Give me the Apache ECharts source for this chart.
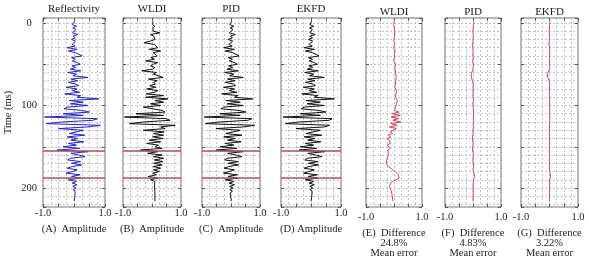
<!DOCTYPE html>
<html>
<head>
<meta charset="utf-8">
<script src="https://cdn.jsdelivr.net/npm/echarts@6/dist/echarts.min.js"></script>
<style>
  html, body { margin: 0; padding: 0; background: #fff; }
  #chart { width: 589px; height: 270px; }
</style>
</head>
<body>
<div id="chart"></div>
<script>
// sampling of the traces (ms)
const startMs = -2;
const stepMs = 2;

// traces, one value per sample
const reflectivity = [
  0.02, 0.05, -0.06, 0.08, -0.04, 0.06, 0.02, -0.05, 0.12, -0.03,
  0.04, -0.08, 0.05, 0.02, -0.06, 0.03, -0.22, 0.10, -0.18, 0.05,
  0.02, 0.26, -0.08, 0.04, -0.05, 0.10, 0.20, -0.06, 0.05, -0.12,
  0.22, -0.20, 0.08, -0.04, 0.45, -0.10, 0.12, -0.18, 0.06, 0.15,
  -0.25, 0.10, -0.05, 0.18, -0.30, 0.22, 0.10, 0.80, -0.15, 0.30,
  -0.12, 0.45, -0.22, -0.32, 0.25, 0.50, -0.35, 0.30, -0.95, 0.75,
  0.60, -0.40, -0.90, 0.85, 0.45, -0.50, 0.30, 0.25, -0.15, 0.35,
  -0.22, 0.12, -0.10, 0.32, -0.18, 0.08, -0.35, 0.18, -0.55, 0.45,
  -0.10, 0.15, 0.35, -0.12, -0.20, 0.22, -0.08, 0.25, -0.06, -0.22,
  0.10, -0.05, -0.25, 0.20, -0.08, 0.22, -0.18, 0.08, -0.06, 0.10,
  -0.04, 0.06, -0.03, 0.04, -0.02, 0.03, -0.02, 0.02, 0.00, 0.00
];
const wldi = [
  0.04, 0.06, 0.02, 0.10, 0.03, 0.08, 0.04, 0.27, -0.05, 0.06,
  0.02, 0.10, -0.06, -0.28, 0.08, 0.05, 0.20, -0.10, 0.30, 0.04,
  0.06, 0.18, -0.04, 0.08, -0.22, 0.20, 0.05, -0.05, 0.10, 0.02,
  -0.35, 0.15, 0.05, 0.10, 0.38, -0.12, 0.18, 0.05, 0.12, -0.08,
  0.14, -0.18, 0.20, 0.08, -0.20, 0.40, -0.22, 0.55, 0.10, 0.40,
  -0.05, 0.30, -0.30, -0.25, 0.35, 0.45, -0.55, 0.40, -0.95, 0.50,
  0.62, -0.30, -0.78, 0.80, 0.30, 0.45, -0.30, 0.42, 0.05, 0.40,
  0.02, 0.38, -0.10, 0.30, -0.18, 0.22, 0.10, 0.35, -0.40, 0.20,
  -0.15, 0.35, 0.05, 0.40, 0.08, 0.38, 0.06, 0.35, 0.04, 0.30,
  0.05, 0.25, 0.02, 0.15, -0.13, 0.20, -0.05, 0.10, 0.06, 0.09,
  0.07, 0.09, 0.08, 0.10, 0.09, 0.10, 0.09, 0.10, 0.10, 0.10
];
const pid = [
  0.03, 0.06, -0.05, 0.10, -0.03, 0.07, 0.02, -0.06, 0.15, -0.02,
  0.05, -0.10, 0.06, 0.03, -0.08, 0.04, -0.25, 0.12, -0.20, 0.06,
  0.03, 0.28, -0.10, 0.05, -0.06, 0.12, 0.22, -0.08, 0.06, -0.14,
  0.25, -0.22, 0.10, -0.05, 0.42, -0.12, 0.14, -0.20, 0.08, 0.16,
  -0.26, 0.12, -0.06, 0.20, -0.32, 0.24, 0.12, 0.75, -0.18, 0.32,
  -0.14, 0.42, -0.25, -0.35, 0.28, 0.52, -0.38, 0.32, -0.92, 0.72,
  0.58, -0.42, -0.88, 0.82, 0.42, -0.52, 0.32, 0.28, -0.18, 0.38,
  -0.25, 0.15, -0.12, 0.35, -0.20, 0.10, -0.38, 0.20, -0.52, 0.42,
  -0.12, 0.18, 0.38, -0.14, -0.22, 0.25, -0.10, 0.26, -0.08, -0.24,
  0.12, -0.06, -0.26, 0.22, -0.10, 0.24, -0.20, 0.10, -0.07, 0.12,
  -0.05, 0.07, -0.04, 0.05, -0.03, 0.03, -0.02, 0.02, 0.01, 0.00
];
const ekfd = [
  0.02, 0.04, -0.04, 0.09, -0.05, 0.05, 0.03, -0.04, 0.14, -0.04,
  0.05, -0.09, 0.06, 0.02, -0.07, 0.04, -0.23, 0.12, -0.19, 0.05,
  0.03, 0.27, -0.09, 0.05, -0.06, 0.11, 0.21, -0.07, 0.06, -0.13,
  0.24, -0.21, 0.09, -0.05, 0.44, -0.11, 0.13, -0.19, 0.07, 0.15,
  -0.26, 0.11, -0.06, 0.19, -0.31, 0.23, 0.11, 0.78, -0.16, 0.31,
  -0.13, 0.44, -0.23, -0.33, 0.26, 0.50, -0.36, 0.31, -0.93, 0.70,
  0.60, -0.41, -0.85, 0.62, 0.44, -0.50, 0.31, 0.26, -0.16, 0.36,
  -0.23, 0.13, -0.11, 0.33, -0.19, 0.09, -0.36, 0.19, -0.40, 0.45,
  -0.11, 0.16, 0.36, -0.13, -0.21, 0.23, -0.09, 0.25, -0.07, -0.23,
  0.11, -0.06, -0.25, 0.21, -0.09, 0.23, -0.19, 0.09, -0.06, 0.11,
  -0.04, 0.06, -0.03, 0.04, -0.02, 0.03, -0.02, 0.02, 0.00, 0.00
];
const wldiDiff = [
  0.00, 0.02, -0.01, 0.03, 0.01, -0.02, 0.02, 0.00, 0.03, -0.01,
  0.01, 0.02, -0.01, 0.00, 0.03, 0.01, -0.02, 0.02, 0.04, 0.00,
  0.02, 0.05, 0.01, 0.03, -0.01, 0.04, 0.06, 0.02, 0.03, 0.01,
  0.05, 0.02, 0.06, 0.04, 0.08, 0.03, 0.06, 0.02, 0.05, 0.07,
  0.03, 0.06, 0.09, 0.04, 0.07, 0.10, 0.05, 0.08, 0.12, 0.06,
  0.09, 0.14, 0.05, 0.11, 0.02, 0.18, -0.06, 0.22, -0.10, 0.16,
  -0.04, 0.25, -0.12, 0.12, -0.16, 0.08, 0.02, -0.14, -0.05, -0.20,
  -0.12, -0.24, -0.16, -0.21, -0.13, -0.25, -0.18, -0.14, -0.22, -0.17,
  -0.20, -0.15, -0.22, -0.18, -0.26, -0.20, -0.28, -0.24, -0.20, -0.12,
  -0.04, 0.04, 0.10, 0.16, 0.21, 0.18, 0.08, -0.04, -0.12, -0.15,
  -0.16, -0.14, -0.12, -0.10, -0.08, -0.07, -0.06, -0.05, -0.05, -0.04
];
const pidDiff = [
  0.04, 0.03, 0.01, 0.00, 0.01, 0.00, -0.01, 0.00, 0.01, 0.00,
  0.00, -0.01, 0.00, 0.01, -0.02, -0.03, -0.01, 0.00, 0.01, 0.00,
  -0.01, 0.00, 0.01, 0.00, -0.01, 0.00, 0.01, 0.02, 0.01, 0.00,
  -0.02, -0.04, -0.06, -0.07, -0.06, -0.04, -0.02, 0.00, 0.01, 0.00,
  0.00, 0.01, 0.00, -0.01, 0.00, 0.01, 0.00, 0.01, 0.02, 0.00,
  -0.01, 0.00, 0.01, 0.02, 0.01, 0.00, 0.02, 0.03, 0.01, 0.00,
  0.02, 0.01, 0.00, 0.01, 0.02, 0.00, -0.01, 0.00, 0.01, 0.00,
  -0.02, -0.03, -0.02, 0.00, 0.01, 0.00, -0.01, -0.03, -0.02, 0.00,
  0.01, 0.00, 0.00, 0.01, 0.00, -0.01, 0.00, 0.01, 0.02, 0.01,
  0.00, 0.02, 0.03, 0.05, 0.06, 0.03, 0.01, 0.00, 0.01, 0.00,
  0.00, 0.01, 0.00, 0.00, 0.01, 0.00, 0.00, 0.00, 0.00, 0.00
];
const ekfdDiff = [
  0.02, 0.01, 0.00, 0.01, 0.00, 0.00, -0.01, 0.00, 0.00, 0.01,
  0.00, 0.00, -0.01, -0.03, -0.02, 0.00, 0.01, 0.00, 0.00, 0.00,
  0.01, 0.00, 0.00, -0.01, 0.00, 0.01, 0.00, 0.00, 0.01, 0.00,
  -0.02, -0.05, -0.08, -0.09, -0.07, -0.04, -0.01, 0.00, 0.01, 0.00,
  0.00, 0.01, 0.00, 0.00, -0.01, 0.00, 0.01, 0.00, 0.00, 0.01,
  0.00, 0.00, 0.01, 0.02, 0.01, 0.00, 0.01, 0.02, 0.00, 0.00,
  0.01, 0.00, 0.00, 0.01, 0.00, 0.00, -0.01, 0.00, 0.00, 0.01,
  0.00, -0.01, 0.00, 0.00, 0.01, 0.00, 0.00, -0.02, -0.01, 0.00,
  0.00, 0.01, 0.00, 0.00, -0.01, 0.00, 0.01, 0.00, 0.00, 0.01,
  0.00, 0.01, 0.02, 0.03, 0.04, 0.02, 0.00, 0.00, 0.01, 0.00,
  0.00, 0.00, 0.01, 0.00, 0.00, 0.00, 0.00, 0.00, 0.00, 0.00
];

// red marker times (ms) on the first four panels
const markTimes = [155, 188];
const timeLabels = [0, 100, 200];
const ampLabels = [-1, 1];
const panelTitles = ['Reflectivity', 'WLDI', 'PID', 'EKFD', 'WLDI', 'PID', 'EKFD'];
const panelCaptions = [
  '(A)  Amplitude', '(B)  Amplitude', '(C)  Amplitude', '(D) Amplitude',
  '(E)  Difference\n24.8%\nMean error',
  '(F)  Difference\n4.83%\nMean error',
  '(G)  Difference\n3.22%\nMean error'
];

const traces = [reflectivity, wldi, pid, ekfd, wldiDiff, pidDiff, ekfdDiff];
const colors = ['#2424c8', '#111', '#111', '#111', '#d8425a', '#d8425a', '#d8425a'];
const lefts = [43, 123, 202, 281, 366, 445, 521];
const widths = [62, 58, 58, 60, 56, 56, 57];

const font = 'Liberation Serif';
const txt = { fontFamily: font, fontSize: 10.5, color: '#222' };
const gridLine = { show: true, lineStyle: { color: '#c2c2c2', type: [2, 2], width: 1 } };
const tick = { show: true, inside: true, length: 3, lineStyle: { color: '#555' } };
const noLine = { show: false, onZero: false };

const grids = [], xAxes = [], yAxes = [], series = [];

traces.forEach((tr, i) => {
  const diff = i >= 4;
  grids.push({
    left: lefts[i], width: widths[i], top: 18, height: 189,
    show: true, borderColor: '#6a6a6a', borderWidth: 1,
    backgroundColor: 'transparent', outerBoundsMode: 'none'
  });

  // bottom: amplitude axis with the fine grid
  xAxes.push({
    gridIndex: i, type: 'value', position: 'bottom', min: -1, max: 1, interval: 0.5,
    axisLine: noLine, axisTick: tick,
    minorTick: { show: false, splitNumber: 2 },
    splitLine: gridLine, minorSplitLine: gridLine,
    axisLabel: Object.assign({ customValues: ampLabels, formatter: v => v.toFixed(1), margin: diff ? 5 : 1 }, txt),
    name: panelCaptions[i], nameLocation: 'middle', nameGap: diff ? 20 : 8,
    nameTextStyle: Object.assign({ lineHeight: 10 }, txt)
  });
  // top: ticks + panel title
  xAxes.push({
    gridIndex: i, type: 'value', position: 'top', min: -1, max: 1, interval: 0.5,
    axisLine: noLine, axisTick: tick, axisLabel: { show: false }, splitLine: { show: false },
    name: panelTitles[i], nameLocation: 'middle', nameGap: diff ? 0 : 3,
    nameTextStyle: { fontFamily: font, fontSize: 11, color: '#222' }
  });

  // left: time axis with the fine grid
  yAxes.push({
    gridIndex: i, type: 'value', position: 'left', inverse: true, min: -6, max: 223, splitNumber: 5,
    axisLine: noLine, axisTick: tick,
    minorTick: { show: false, splitNumber: 5 },
    splitLine: gridLine, minorSplitLine: gridLine,
    axisLabel: i === 0
      ? Object.assign({ customValues: timeLabels, align: 'center', margin: 14 }, txt)
      : { show: false },
    name: i === 0 ? 'Time (ms)' : '', nameLocation: 'middle', nameRotate: 90, nameGap: 29,
    nameTextStyle: txt
  });
  // right: ticks only
  yAxes.push({
    gridIndex: i, type: 'value', position: 'right', inverse: true, min: -6, max: 223, splitNumber: 5,
    axisLine: noLine, axisTick: tick, axisLabel: { show: false }, splitLine: { show: false }
  });

  const s = {
    type: 'line', xAxisIndex: 2 * i, yAxisIndex: 2 * i,
    data: tr.map((a, k) => [a, startMs + k * stepMs]),
    symbol: 'none', lineStyle: { color: colors[i], width: 1 },
    silent: true, z: 3
  };
  if (!diff) {
    s.markLine = {
      symbol: 'none', silent: true, label: { show: false },
      lineStyle: { color: '#a8505e', width: 1.5, type: 'solid' },
      data: markTimes.map(t => ({ yAxis: t }))
    };
  }
  series.push(s);
});

const myChart = echarts.init(document.getElementById('chart'));
myChart.setOption({
  animation: false,
  backgroundColor: '#fff',
  grid: grids,
  xAxis: xAxes,
  yAxis: yAxes,
  series: series
});

window.addEventListener('resize', function() {
  myChart.resize();
});
</script>
</body>
</html>
